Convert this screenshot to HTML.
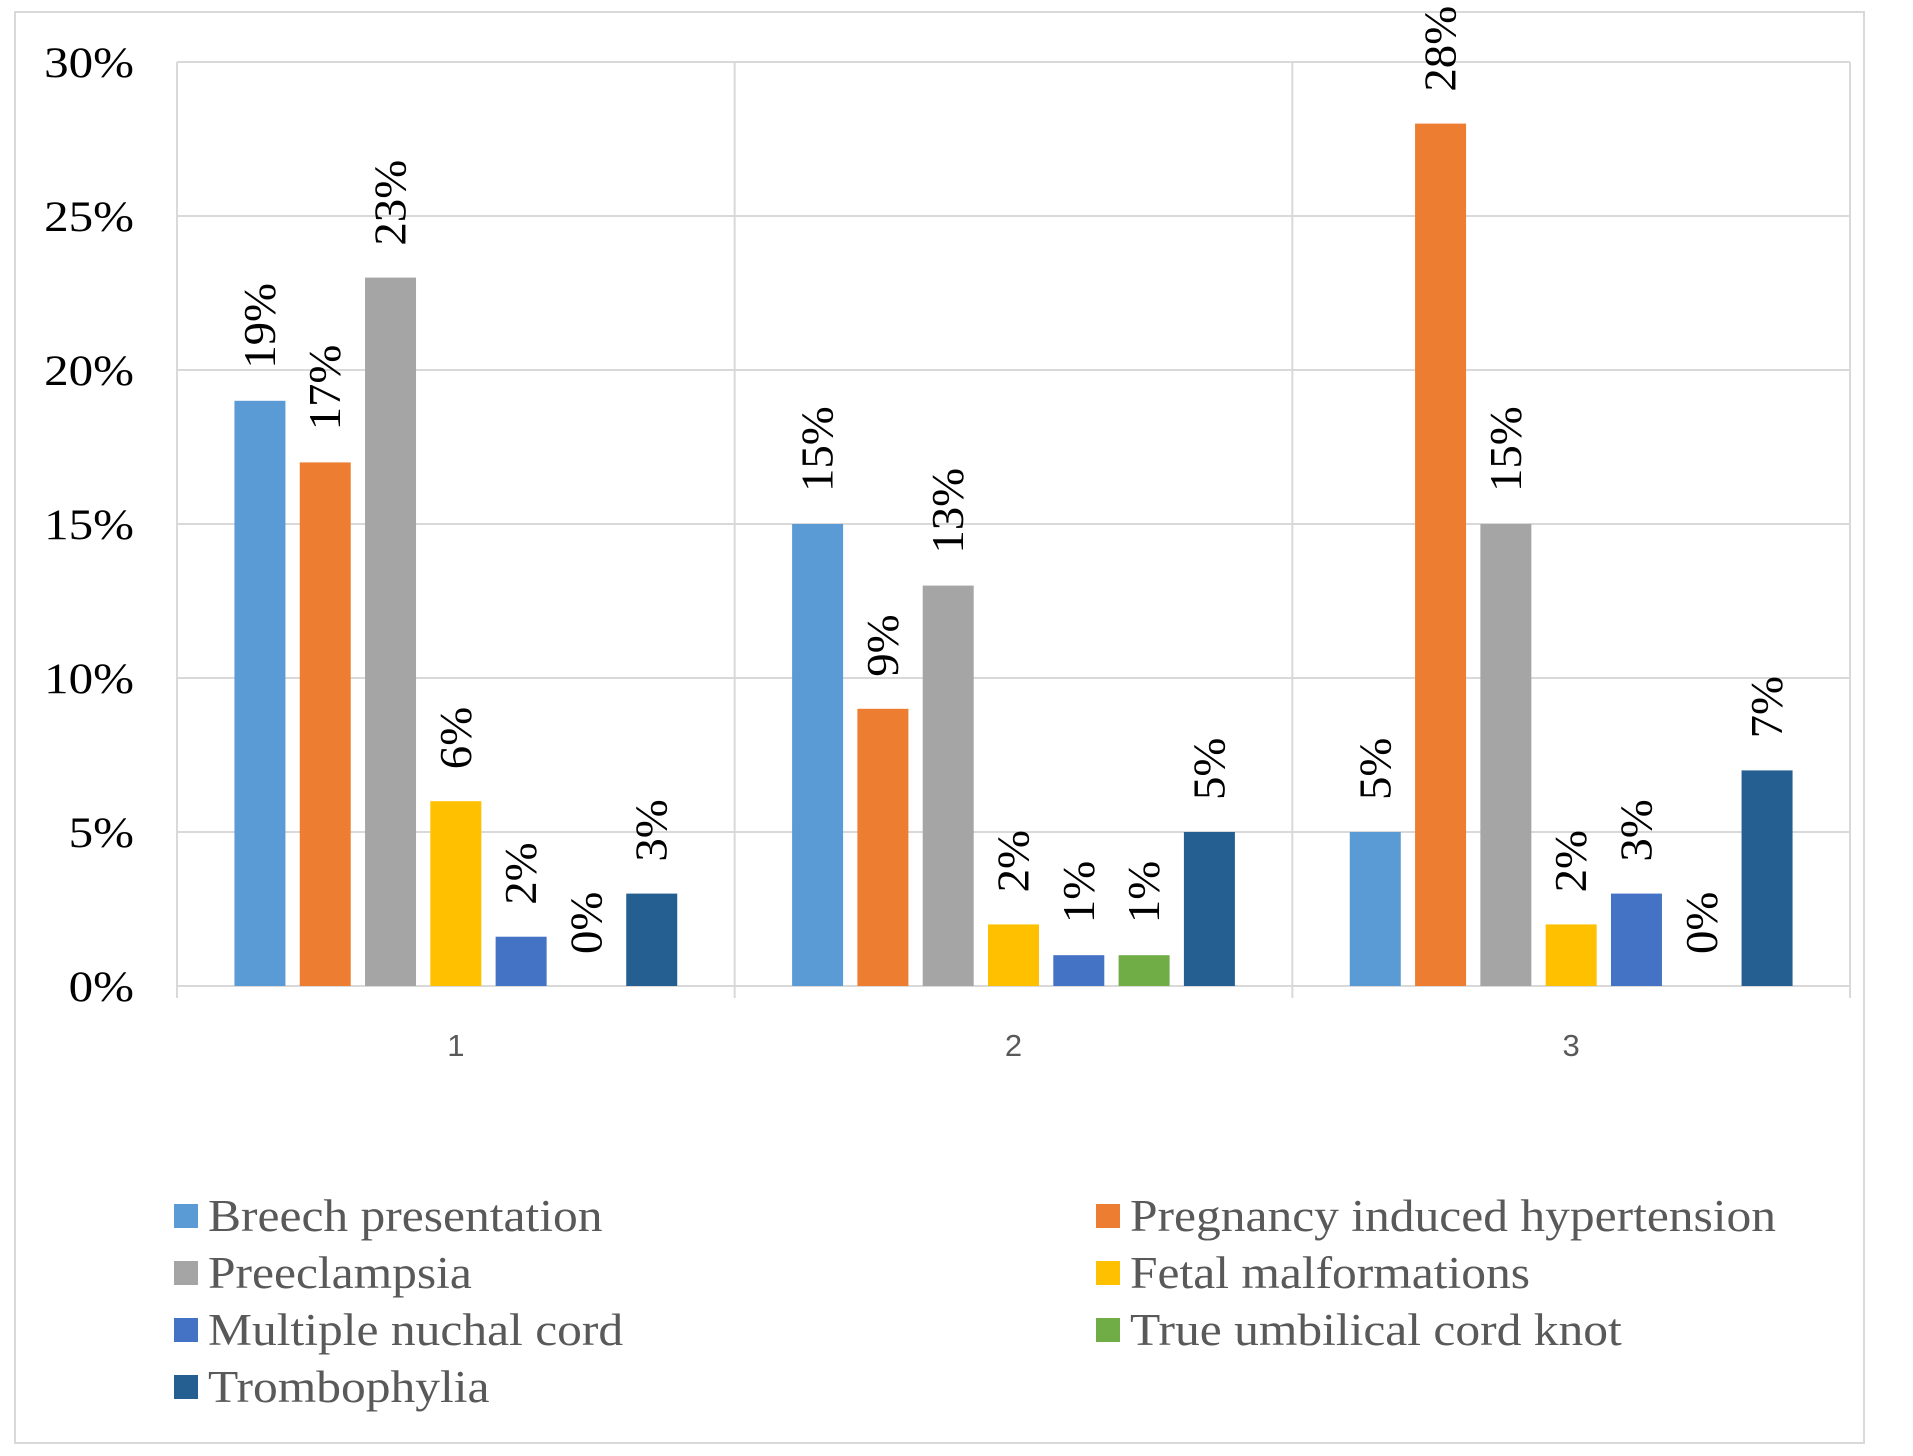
<!DOCTYPE html>
<html><head><meta charset="utf-8"><style>
html,body{margin:0;padding:0;background:#fff;}
svg{display:block;}
</style></head><body>
<svg id="chart" width="1913" height="1456" viewBox="0 0 1913 1456" xmlns="http://www.w3.org/2000/svg">
<rect x="15" y="12" width="1849" height="1431" fill="#fff" stroke="#d9d9d9" stroke-width="2"/>
<g id="grid"></g><g id="bars"></g><g id="labels"></g><g id="legend"></g>
</svg>
<script>
const categories = ["1", "2", "3"];
const seriesNames = ["Breech presentation", "Pregnancy induced hypertension", "Preeclampsia", "Fetal malformations", "Multiple nuchal cord", "True umbilical cord knot", "Trombophylia"];
const seriesColors = ["#5B9BD5", "#ED7D31", "#A5A5A5", "#FFC000", "#4472C4", "#70AD47", "#255E91"];
const breech = [19, 15, 5];
const pih = [17, 9, 28];
const preeclampsia = [23, 13, 15];
const fetal = [6, 2, 2];
const nuchal = [1.6, 1, 3];
const knot = [0, 1, 0];
const thrombo = [3, 5, 7];
const yTicks = [0, 5, 10, 15, 20, 25, 30];
const series = [breech, pih, preeclampsia, fetal, nuchal, knot, thrombo];

const NS = "http://www.w3.org/2000/svg";
const L = 177, R = 1850, T = 62, B = 986, YMAX = 30;
const gw = (R - L) / categories.length;
const y = v => B - (v / YMAX) * (B - T);
const barW = 51, pitch = 65.3, off = (gw - pitch * 7 + (pitch - barW)) / 2;
const bx = (g, s) => L + g * gw + off + s * pitch;
function mk(tag, attrs, parent) { const e = document.createElementNS(NS, tag); for (const k in attrs) e.setAttribute(k, attrs[k]); parent.appendChild(e); return e; }
function stretch(el, f) { const w = el.getComputedTextLength(); el.setAttribute('textLength', w * f); el.setAttribute('lengthAdjust', 'spacingAndGlyphs'); }
const grid = document.getElementById('grid'), bars = document.getElementById('bars'), labels = document.getElementById('labels'), legend = document.getElementById('legend');

yTicks.forEach(t => {
  const ln = mk('line', {x1: L, x2: R, y1: y(t), y2: y(t), stroke: '#d9d9d9', 'stroke-width': 2}, grid);
  
  
  const tx = mk('text', {x: 134, y: y(t) + 15, 'text-anchor': 'end', 'font-family': '"Liberation Serif", serif', 'font-size': 43, fill: '#000'}, grid);
  tx.textContent = t + '%';
  
  
  stretch(tx, 1.14);
});
for (let i = 0; i <= categories.length; i++) {
  const x = L + i * gw;
  const ln = mk('line', {x1: x, x2: x, y1: T, y2: B + 12, stroke: '#d9d9d9', 'stroke-width': 2}, grid);
  
  
}
categories.forEach((c, g) => {
  const tx = mk('text', {x: L + g * gw + gw / 2, y: 1056, 'text-anchor': 'middle', 'font-family': '"Liberation Sans", sans-serif', 'font-size': 31, fill: '#595959'}, grid);
  tx.textContent = c;
  
  
});
series.forEach((vals, s) => {
  vals.forEach((v, g) => {
    const x = bx(g, s);
    if (v > 0) {
      const r = mk('rect', {x: x, y: y(v), width: barW, height: B - y(v), fill: seriesColors[s]}, bars);
      
      
    }
    const cx = x + barW / 2 + 15, cy = y(v) - 32;
    const tx = mk('text', {x: cx, y: cy, transform: 'rotate(-90 ' + cx + ' ' + cy + ')', 'font-family': '"Liberation Serif", serif', 'font-size': 45, fill: '#000'}, labels);
    tx.textContent = Math.round(v) + '%';
    
    
    stretch(tx, 1.04);
  });
});
seriesNames.forEach((n, i) => {
  const col = i % 2, row = Math.floor(i / 2);
  const x = col ? 1096 : 174, yy = 1216 + row * 57;
  const g = mk('g', {}, legend);
  
  
  mk('rect', {x: x, y: yy - 12, width: 24, height: 24, fill: seriesColors[i]}, g);
  const tx = mk('text', {x: x + 34, y: yy + 15, 'font-family': '"Liberation Serif", serif', 'font-size': 45, fill: '#595959'}, g);
  tx.textContent = n;
  stretch(tx, 1.1);
});
</script>
</body></html>
